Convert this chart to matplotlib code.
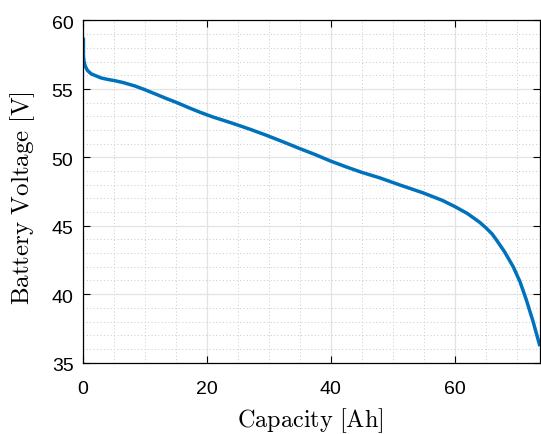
import matplotlib
matplotlib.use("Agg")
import matplotlib.pyplot as plt
import matplotlib.transforms as mtransforms
from matplotlib.ticker import MultipleLocator

capacity_ah = [0.15, 0.15, 0.25, 0.45, 0.8, 1.4, 2.2, 3.0, 4.0, 5.2, 6.5, 8.4, 10, 11.9, 13.5,
               15.2, 17, 18.9, 21, 24.3, 27, 29.7, 32.5, 35, 37.5, 39.9, 42.5, 45,
               47.9, 51, 54.9, 58, 60, 62, 64, 65, 66, 66.7, 68, 69.4, 70.5, 71.5, 72.6, 73.7]
voltage_v = [58.75, 57.4, 57.0, 56.65, 56.35, 56.1, 55.95, 55.8, 55.7, 55.6, 55.47, 55.22,
             54.95, 54.6, 54.3, 54.0, 53.65, 53.3, 52.95, 52.47, 52.05, 51.6, 51.1,
             50.64, 50.2, 49.74, 49.3, 48.9, 48.5, 48.0, 47.4, 46.85, 46.4, 45.9, 45.25,
             44.85, 44.4, 43.96, 43.1, 42.0, 40.9, 39.6, 38.0, 36.2]
x_ticks = [0, 20, 40, 60]
y_ticks = [35, 40, 45, 50, 55, 60]

plt.rcParams['mathtext.fontset'] = 'cm'
fig = plt.figure(figsize=(5.41, 4.34), dpi=100)
ax = fig.add_axes([0.1525, 0.1645, 0.998 - 0.1525, 0.9528 - 0.1645])

ax.plot(capacity_ah, voltage_v, color='#0072BD', lw=2.5, solid_capstyle='butt')
ax.set_xlim(0, 73.7)
ax.set_ylim(35, 60)
ax.set_xticks(x_ticks)
ax.set_yticks(y_ticks)
ax.xaxis.set_minor_locator(MultipleLocator(5))
ax.yaxis.set_minor_locator(MultipleLocator(1))
ax.grid(which='major', color='#e3e3e3', lw=0.9, ls='-')
ax.grid(which='minor', color='#c8c8c8', lw=0.7, ls=(0, (1, 2.5)))
ax.set_axisbelow(True)
ax.tick_params(which='major', direction='in', length=5, width=0.8, top=True, right=True,
               labelsize=14)
ax.tick_params(axis='x', pad=13)
ax.tick_params(axis='y', pad=6.5)
ax.tick_params(which='minor', length=0, top=True, right=True)
offset = mtransforms.ScaledTranslation(0, -2 / 100, fig.dpi_scale_trans)
for lab in ax.get_yticklabels():
    lab.set_transform(lab.get_transform() + offset)
for lab in ax.get_xticklabels() + ax.get_yticklabels():
    lab.set_fontfamily('Liberation Sans')
for s in ax.spines.values():
    s.set_linewidth(0.9)

ax.set_xlabel(r'$\mathrm{Capacity\ [Ah]}$', fontsize=17.5)
ax.set_ylabel(r'$\mathrm{Battery\ Voltage\ [V]}$', fontsize=18)
ax.xaxis.set_label_coords(0.497, -0.128)
ax.yaxis.set_label_coords(-0.1, 0.482)

fig.savefig('out.png', dpi=100)
